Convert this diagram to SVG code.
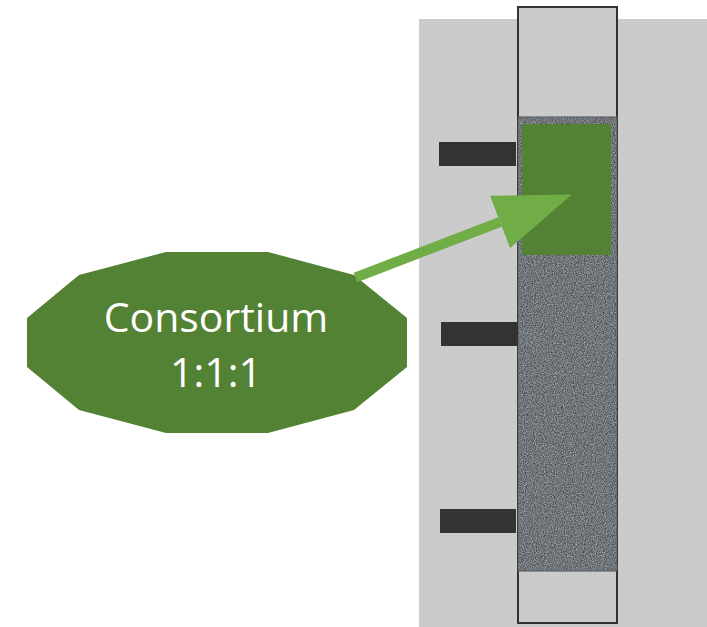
<svg xmlns="http://www.w3.org/2000/svg" width="707" height="627" viewBox="0 0 707 627">
  <style>
    .tick { fill: #333333; }
    .label { font-family: "Open Sans", "Noto Sans", "Liberation Sans", sans-serif; font-size: 41px; fill: #ffffff; text-anchor: middle; }
  </style>
  <defs>
    <filter id="noise" x="0" y="0" width="100%" height="100%" color-interpolation-filters="sRGB">
      <feTurbulence type="fractalNoise" baseFrequency="0.9" numOctaves="2" seed="3" result="t"/>
      <feColorMatrix in="t" type="matrix" values="0.6 0 0 0 0.14  0.6 0 0 0 0.16  0.6 0 0 0 0.18  0 0 0 0 1" result="n"/>
      <feComposite in="n" in2="SourceGraphic" operator="in"/>
    </filter>
    <marker id="head" markerUnits="userSpaceOnUse" viewBox="0 0 77 56" refX="0" refY="28" markerWidth="77" markerHeight="56" orient="auto">
      <path d="M0,0 L77,28 L0,56 z" fill="#70AD47"/>
    </marker>
  </defs>
  <rect width="707" height="627" fill="#ffffff"/>
  <g id="background">
    <rect x="419" y="19" width="288" height="608" fill="#cbcbcb"/>
  </g>
  <g id="tube">
    <rect x="518" y="7" width="99" height="616" fill="#cbcbcb" stroke="#333333" stroke-width="2"/>
    <rect x="518" y="117" width="99" height="454" fill="#6f7479" stroke="#4a4d50" stroke-width="1"/>
    <rect x="518.5" y="117.5" width="98" height="453" fill="#6f7479" filter="url(#noise)"/>
  </g>
  <g id="consortium-band">
    <rect x="522" y="124" width="89" height="131" fill="#548235"/>
  </g>
  <g id="ticks">
    <rect class="tick" x="439" y="142" width="77" height="24"/>
    <rect class="tick" x="441" y="322" width="77" height="24"/>
    <rect class="tick" x="440" y="509" width="76" height="24"/>
  </g>
  <g id="consortium">
    <polygon points="166,252 268,252 354,275 407,318 407,367 354,410 268,433 166,433 79,410 27,367 27,318 79,275" fill="#548235"/>
    <text class="label" x="216" y="332">Consortium</text>
    <text class="label" x="216" y="387">1:1:1</text>
  </g>
  <g id="connectors">
    <line x1="355.5" y1="277.5" x2="500" y2="222" stroke="#70AD47" stroke-width="10" marker-end="url(#head)"/>
  </g>
</svg>
